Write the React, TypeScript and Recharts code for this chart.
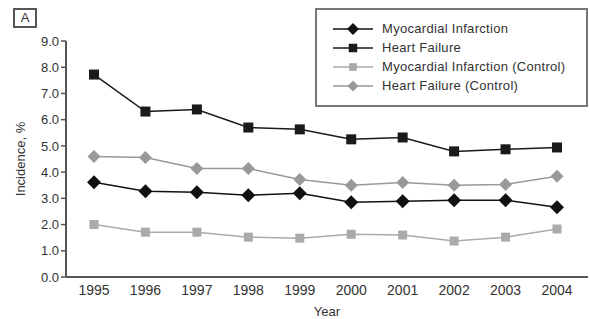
import { LineChart, Line, XAxis, YAxis, Label } from 'recharts';

const years = ['1995', '1996', '1997', '1998', '1999', '2000', '2001', '2002', '2003', '2004'];
const miValues = [3.61, 3.27, 3.23, 3.12, 3.19, 2.85, 2.89, 2.93, 2.93, 2.66];
const hfValues = [7.72, 6.31, 6.39, 5.7, 5.63, 5.25, 5.32, 4.79, 4.87, 4.94];
const miControlValues = [2.0, 1.71, 1.71, 1.52, 1.48, 1.63, 1.6, 1.37, 1.52, 1.83];
const hfControlValues = [4.6, 4.56, 4.14, 4.14, 3.72, 3.5, 3.6, 3.5, 3.53, 3.84];
const yTicks = [0, 1, 2, 3, 4, 5, 6, 7, 8, 9];

const data = years.map((year, i) => ({
    year,
    mi: miValues[i],
    hf: hfValues[i],
    miControl: miControlValues[i],
    hfControl: hfControlValues[i],
}));

const FONT = 'Liberation Sans, Arial, sans-serif';

const series = [
    { key: 'mi', name: 'Myocardial Infarction', color: '#111', shape: 'diamond', size: 7 },
    { key: 'hf', name: 'Heart Failure', color: '#1a1a1a', shape: 'square', size: 5 },
    { key: 'miControl', name: 'Myocardial Infarction (Control)', color: '#aaa', shape: 'square', size: 4.5 },
    { key: 'hfControl', name: 'Heart Failure (Control)', color: '#999', shape: 'diamond', size: 6.5 },
];

const marker = (shape: string, cx: number, cy: number, r: number, color: string) =>
    shape === 'diamond' ? (
        <path d={`M${cx},${cy - r}L${cx + r},${cy}L${cx},${cy + r}L${cx - r},${cy}Z`} fill={color} />
    ) : (
        <rect x={cx - r} y={cy - r} width={r * 2} height={r * 2} fill={color} />
    );

const makeDot = (shape: string, r: number, color: string) => (props: any) => {
    const { cx, cy, index } = props;
    return <g key={`d-${index}`}>{marker(shape, cx, cy, r, color)}</g>;
};

const LegendBox = () => (
    <div
        style={{
            position: 'absolute',
            left: 315,
            top: 8,
            width: 273,
            height: 99,
            border: '2px solid #777',
            boxSizing: 'border-box',
            paddingTop: 9,
            fontFamily: FONT,
            fontSize: 13,
            letterSpacing: 0.3,
            color: '#333',
        }}
    >
        {series.map((s) => (
            <div key={s.key} style={{ display: 'flex', alignItems: 'center', height: 19 }}>
                <svg width={51} height={16} style={{ marginLeft: 14 }}>
                    <line x1={2} y1={8} x2={42} y2={8} stroke={s.color} strokeWidth={1.5} />
                    {marker(s.shape, 22, 8, s.size * 0.85, s.color)}
                </svg>
                <span>{s.name}</span>
            </div>
        ))}
    </div>
);

const App = () => {
    return (
        <div style={{ position: 'absolute', left: 0, top: 0, width: 590, height: 319, background: '#fff' }}>
            <div
                style={{
                    position: 'absolute',
                    left: 13,
                    top: 8,
                    width: 20,
                    height: 16,
                    border: '2px solid #555',
                    fontFamily: FONT,
                    fontSize: 13,
                    lineHeight: '16px',
                    textAlign: 'center',
                    color: '#333',
                }}
            >
                A
            </div>
            <LineChart width={590} height={319} data={data} margin={{ top: 41, right: 2, bottom: 2, left: 16 }}>
                <XAxis
                    dataKey="year"
                    padding={{ left: 28, right: 31 }}
                    tickLine={false}
                    axisLine={{ stroke: '#555', strokeWidth: 2 }}
                    tick={{ fill: '#333', fontSize: 14, fontFamily: FONT }}
                    height={40}
                >
                    <Label value="Year" position="insideBottom" offset={1} style={{ fill: '#333', fontSize: 13, fontFamily: FONT }} />
                </XAxis>
                <YAxis
                    domain={[0, 9]}
                    ticks={yTicks}
                    interval={0}
                    width={50}
                    tickSize={5}
                    tickMargin={2}
                    tickFormatter={(v: number) => v.toFixed(1)}
                    axisLine={{ stroke: '#555', strokeWidth: 2 }}
                    tickLine={{ stroke: '#555', strokeWidth: 1.5 }}
                    tick={{ fill: '#333', fontSize: 13, fontFamily: FONT }}
                >
                    <Label
                        value="Incidence, %"
                        angle={-90}
                        position="insideLeft"
                        offset={4}
                        style={{ textAnchor: 'middle', fill: '#333', fontSize: 13, fontFamily: FONT }}
                    />
                </YAxis>
                {series.map((s) => (
                    <Line
                        key={s.key}
                        dataKey={s.key}
                        name={s.name}
                        stroke={s.color}
                        strokeWidth={1.5}
                        dot={makeDot(s.shape, s.size, s.color)}
                        isAnimationActive={false}
                    />
                ))}
            </LineChart>
            <LegendBox />
        </div>
    );
};

export default App;
